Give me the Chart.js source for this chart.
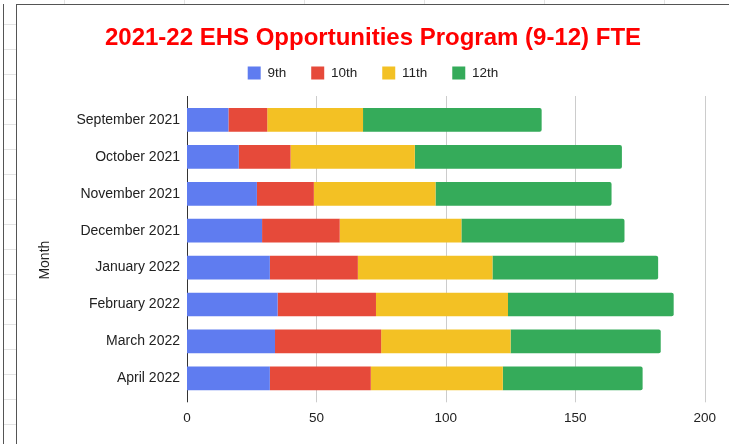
<!DOCTYPE html>
<html>
<head>
<meta charset="utf-8">
<script src="https://cdn.jsdelivr.net/npm/chart.js@4"></script>
<style>
html,body{margin:0;padding:0;background:#fff;}
body{width:729px;height:444px;position:relative;overflow:hidden;}
#topTicks{position:absolute;left:16px;top:0;width:713px;height:4px;
  background:repeating-linear-gradient(to right, transparent 0 48px, #e3e3e3 48px 49px, transparent 49px 120px);}
#leftTicks{position:absolute;left:4px;top:4px;width:12px;height:440px;
  background:repeating-linear-gradient(to bottom, transparent 0 20px, #e3e3e3 20px 21px, transparent 21px 25px);}
#lineL{position:absolute;left:3px;top:4px;width:1px;height:440px;background:#555;}
#frame{position:absolute;left:16px;top:4px;width:713px;height:440px;border-left:1px solid #555;border-top:1px solid #555;box-sizing:border-box;}
#wrap{position:absolute;left:17px;top:5px;width:712px;height:439px;}
</style>
</head>
<body>
<div id="topTicks"></div>
<div id="leftTicks"></div>
<div id="lineL"></div>
<div id="frame"></div>
<div id="wrap"><canvas id="c"></canvas></div>
<script>
const TITLE = '2021-22 EHS Opportunities Program (9-12) FTE';
const Y_TITLE = 'Month';
const months = ['September 2021','October 2021','November 2021','December 2021','January 2022','February 2022','March 2022','April 2022'];
const seriesNames = ['9th','10th','11th','12th'];
const grade9  = [16, 20, 27, 29, 32, 35, 34, 32];
const grade10 = [15, 20, 22, 30, 34, 38, 41, 39];
const grade11 = [37, 48, 47, 47, 52, 51, 50, 51];
const grade12 = [69, 80, 68, 63, 64, 64, 58, 54];
const xTicks  = [0, 50, 100, 150, 200];

const FONT = '"Liberation Sans", Arial, sans-serif';
Chart.defaults.font.family = FONT;

const colors = ['#5f7cf0', '#e64a3a', '#f3c124', '#35ab5a'];
const seriesData = [grade9, grade10, grade11, grade12];

const gridPlugin = {
  id: 'gsGrid',
  beforeDatasetsDraw(chart) {
    const {ctx, scales: {x}, chartArea: a} = chart;
    ctx.save();
    ctx.lineWidth = 1;
    xTicks.forEach(v => {
      const px = Math.round(x.getPixelForValue(v)) + 0.5;
      ctx.strokeStyle = v === 0 ? '#333333' : '#cccccc';
      ctx.beginPath();
      ctx.moveTo(px, a.top - 5.5);
      ctx.lineTo(px, a.bottom + 5.5);
      ctx.stroke();
    });
    ctx.restore();
  },
  afterDraw(chart) {
    const {ctx, chartArea: a} = chart;
    ctx.save();
    ctx.translate(28.5, (a.top + a.bottom) / 2 + 11);
    ctx.rotate(-Math.PI / 2);
    ctx.font = '14px ' + FONT;
    ctx.fillStyle = '#222222';
    ctx.textAlign = 'center';
    ctx.textBaseline = 'middle';
    ctx.fillText(Y_TITLE, 0, 0);
    ctx.restore();
  }
};

new Chart(document.getElementById('c'), {
  type: 'bar',
  data: {
    labels: months,
    datasets: seriesData.map((d, i) => ({
      label: seriesNames[i],
      data: d,
      backgroundColor: colors[i],
      borderWidth: 0,
      borderRadius: i === 3 ? 2 : 0,
      borderSkipped: 'start',
      categoryPercentage: 1,
      barPercentage: 0.642
    }))
  },
  options: {
    indexAxis: 'y',
    responsive: true,
    maintainAspectRatio: false,
    animation: false,
    layout: {padding: {top: 0, left: 0, right: 0, bottom: 0}},
    plugins: {
      title: {
        display: true, text: TITLE, color: '#ff0000',
        font: {family: FONT, size: 24, weight: 'bold'},
        padding: {top: 19.1, bottom: -11.65}
      },
      legend: {
        position: 'top',
        labels: {boxWidth: 13, boxHeight: 13, padding: 25, color: '#222222', font: {family: FONT, size: 13.5}}
      },
      tooltip: {enabled: false}
    },
    scales: {
      x: {
        stacked: true, min: 0, max: 200,
        afterBuildTicks(s) { s.ticks = xTicks.map(v => ({value: v})); },
        ticks: {padding: 13, color: '#222222', font: {family: FONT, size: 13.5}},
        grid: {display: false, drawTicks: false},
        border: {display: false},
        afterFit(s) { s.height = 47.2; }
      },
      xTop: {
        axis: 'x', position: 'top', display: true,
        ticks: {display: false},
        grid: {display: false, drawTicks: false},
        border: {display: false},
        afterFit(s) { s.height = 11.75; }
      },
      y: {
        stacked: true,
        ticks: {padding: 7, color: '#222222', font: {family: FONT, size: 14}},
        grid: {display: false, drawTicks: false},
        border: {display: false},
        afterFit(s) { s.width = 170; }
      },
      yRight: {
        axis: 'y', position: 'right', display: true,
        ticks: {display: false},
        grid: {display: false, drawTicks: false},
        border: {display: false},
        afterFit(s) { s.width = 22; }
      }
    }
  },
  plugins: [gridPlugin]
});
</script>
</body>
</html>
